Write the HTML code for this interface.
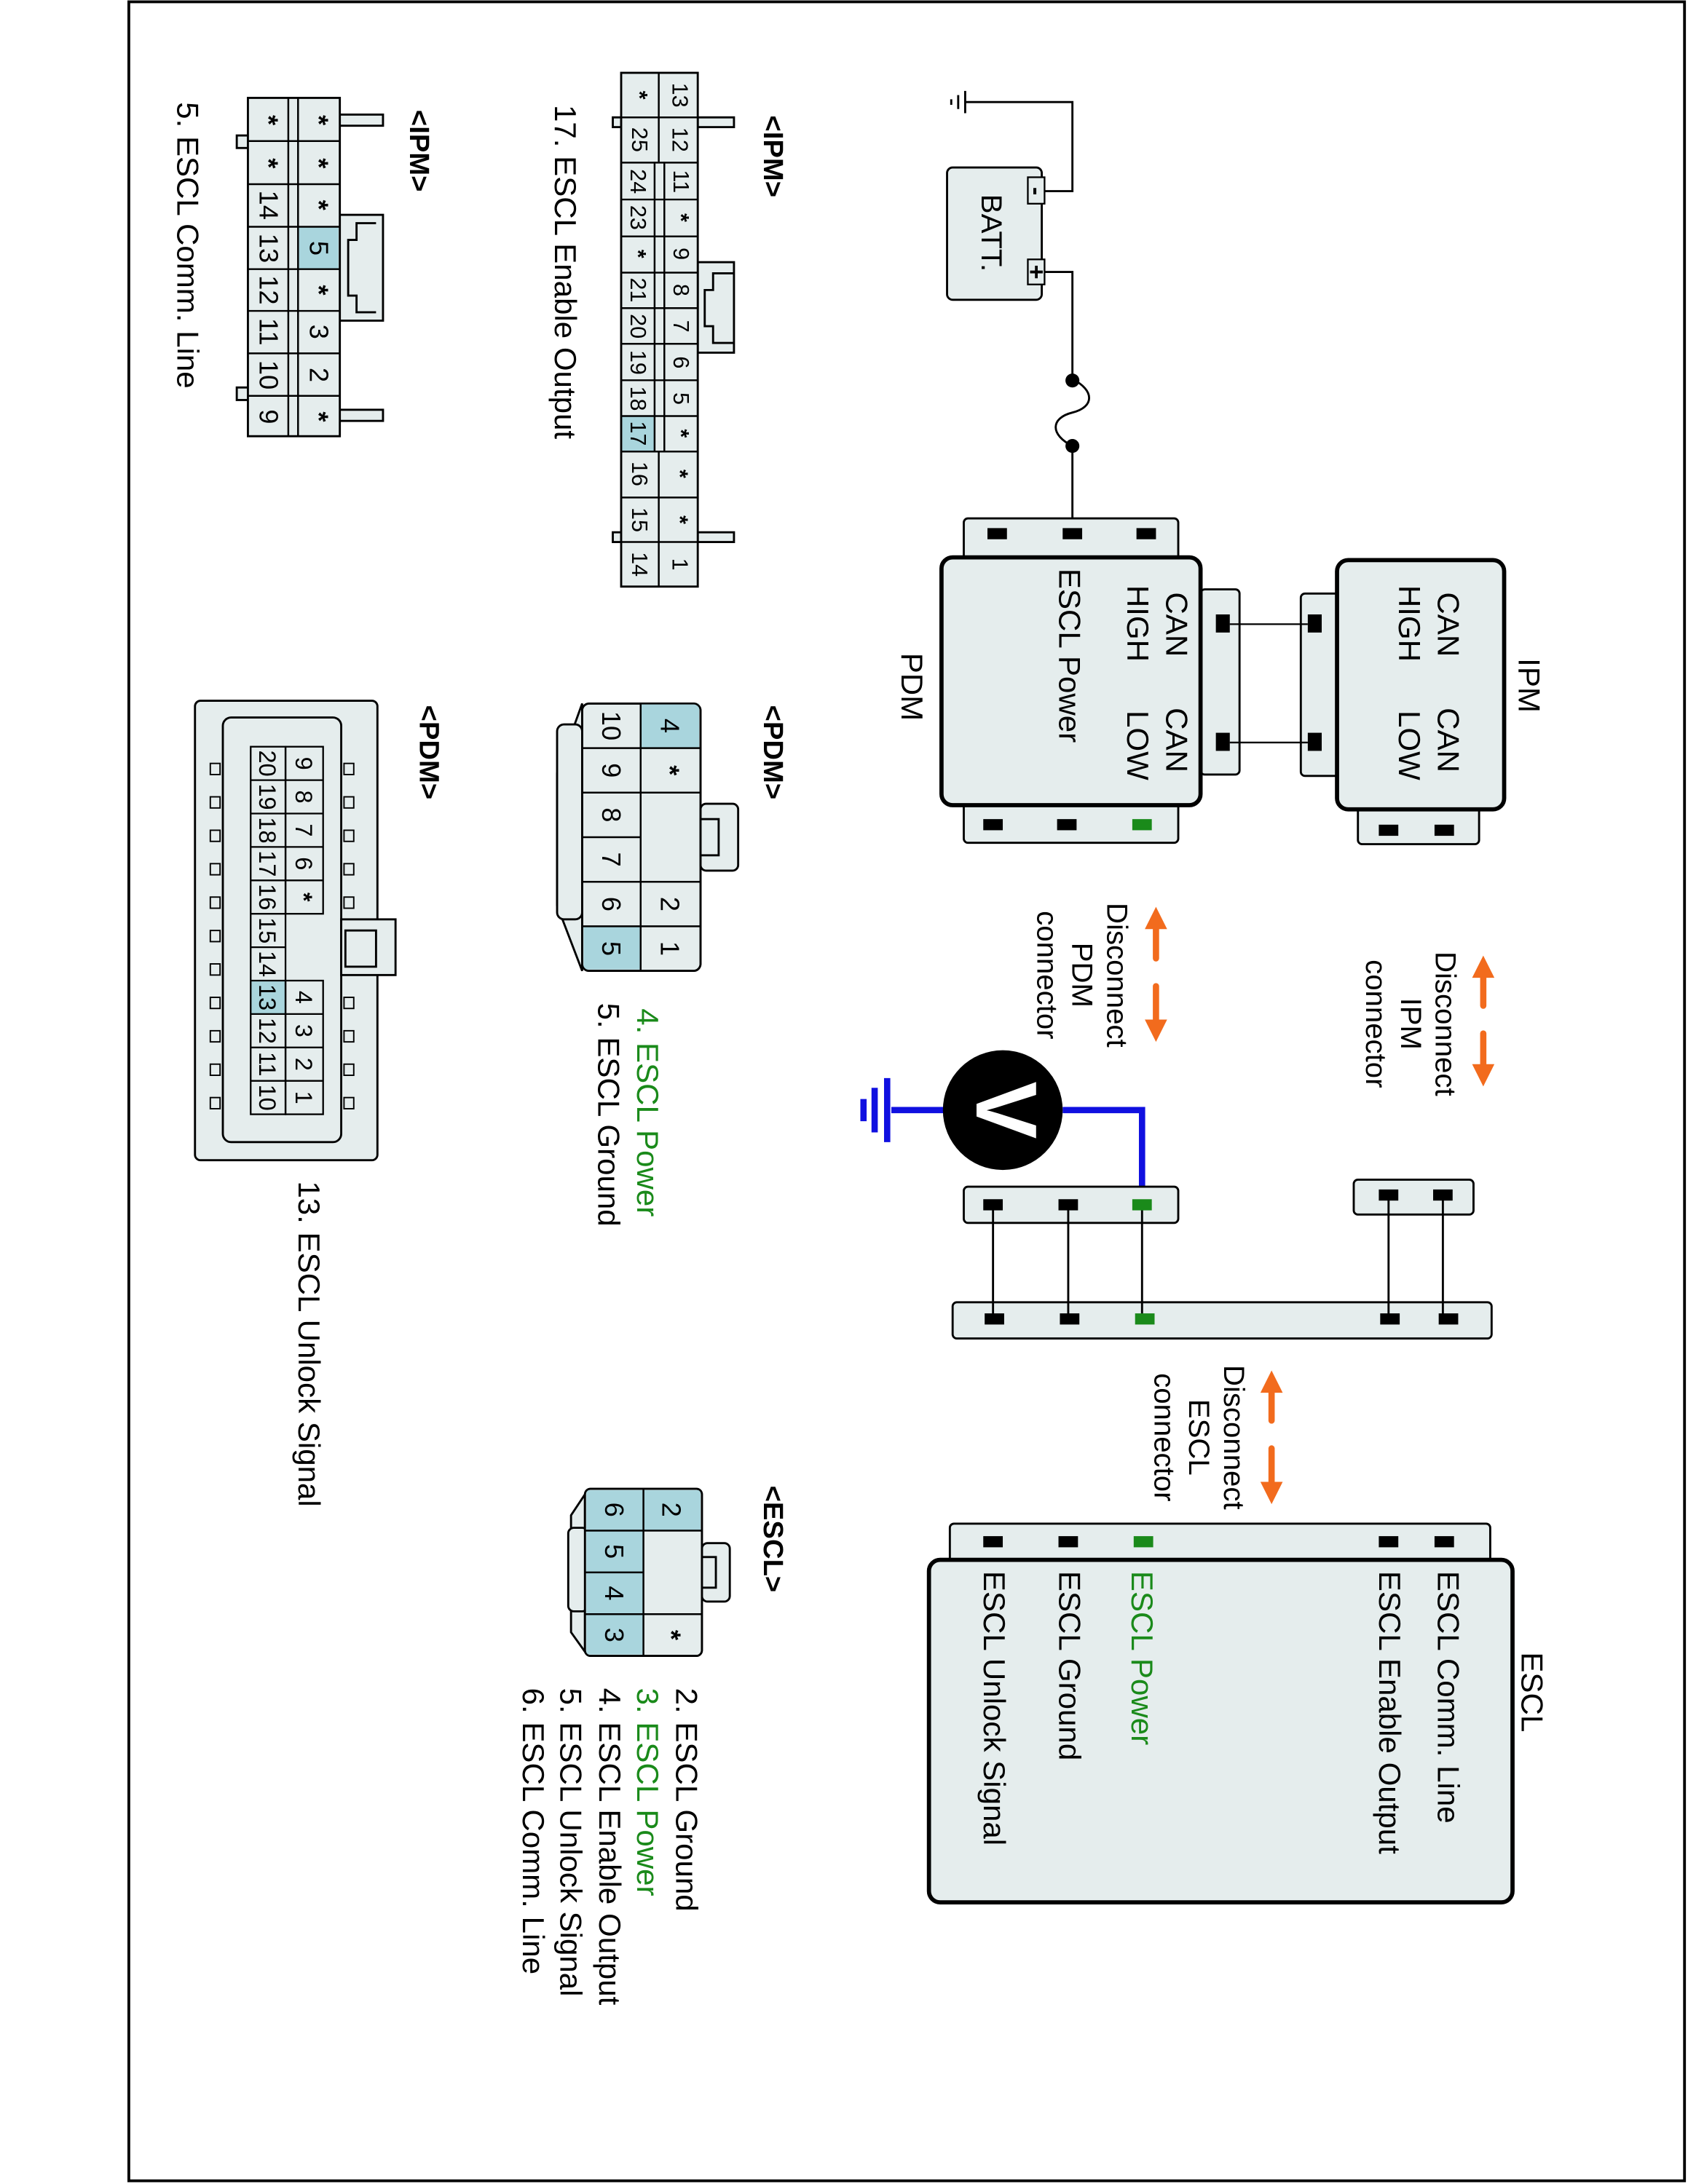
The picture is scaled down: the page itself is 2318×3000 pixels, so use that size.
<!DOCTYPE html>
<html><head><meta charset="utf-8"><style>html,body{margin:0;padding:0;background:#fff}svg{display:block}.a{font-weight:bold}</style></head>
<body>
<svg width="2318" height="3000" viewBox="0 0 1212 1568" xmlns="http://www.w3.org/2000/svg" font-family="Liberation Sans, Arial, sans-serif">
<defs>
<g id="ah"><polygon points="0,-10 -8,6 8,6" fill="#f26b1d"/></g>
</defs>
<rect x="92.5" y="1" width="1117" height="1565" fill="none" stroke="#000" stroke-width="2"/>

<g dominant-baseline="central">
<g stroke="#000" stroke-width="1.5" fill="none">
<polyline points="693,73 770,73 770,137 750,137"/>
<polyline points="750,195 770,195 770,272"/>
<path d="M770 272 C786 280 786 292 770 296 C754 300 754 312 770 320 L770 382"/>
<line x1="693" y1="65" x2="693" y2="81"/>
<line x1="688" y1="68" x2="688" y2="78"/>
<line x1="683" y1="71" x2="683" y2="75"/>
</g>
<circle cx="770" cy="273" r="5"/><circle cx="770" cy="320" r="5"/>
<rect x="680" y="120" width="68" height="95" rx="4" fill="#e5eded" stroke="#000" stroke-width="1.5"/>
<rect x="738" y="127" width="12" height="19" fill="#e5eded" stroke="#000" stroke-width="1.2"/>
<rect x="738" y="186" width="12" height="18" fill="#e5eded" stroke="#000" stroke-width="1.2"/>
<text transform="translate(744 137) rotate(90)" font-size="18" font-weight="bold" text-anchor="middle">-</text>
<text transform="translate(744 195) rotate(90)" font-size="18" font-weight="bold" text-anchor="middle">+</text>
<text transform="translate(712 167) rotate(90)" font-size="21" text-anchor="middle">BATT.</text>

<rect x="692" y="372" width="154" height="32" rx="3" fill="#e5eded" stroke="#000" stroke-width="1.5"/>
<rect x="692" y="574" width="154" height="31" rx="3" fill="#e5eded" stroke="#000" stroke-width="1.5"/>
<rect x="862" y="423" width="28" height="133" rx="3" fill="#e5eded" stroke="#000" stroke-width="1.5"/>
<rect x="676" y="400" width="186" height="178" rx="8" fill="#e5eded" stroke="#000" stroke-width="3"/>
<g fill="#000">
<rect x="709" y="379" width="14" height="8"/><rect x="763" y="379" width="14" height="8"/><rect x="816" y="379" width="14" height="8"/>
<rect x="706" y="588" width="14" height="8"/><rect x="759" y="588" width="14" height="8"/>
<rect x="873" y="441" width="10" height="13"/><rect x="873" y="526" width="10" height="13"/>
</g>
<rect x="813" y="588" width="14" height="8" fill="#1a8a1a"/>
<rect x="934" y="426" width="30" height="131" rx="3" fill="#e5eded" stroke="#000" stroke-width="1.5"/>
<rect x="975" y="577" width="87" height="29" rx="3" fill="#e5eded" stroke="#000" stroke-width="1.5"/>
<rect x="960" y="402" width="120" height="179" rx="8" fill="#e5eded" stroke="#000" stroke-width="3"/>
<g fill="#000">
<rect x="939" y="441" width="10" height="13"/><rect x="939" y="526" width="10" height="13"/>
<rect x="990" y="592" width="14" height="8"/><rect x="1030" y="592" width="14" height="8"/>
</g>
<line x1="883" y1="448" x2="939" y2="448" stroke="#000" stroke-width="1.2"/>
<line x1="883" y1="533" x2="939" y2="533" stroke="#000" stroke-width="1.2"/>
<g font-size="22">
<text transform="translate(1040 425) rotate(90)">CAN</text>
<text transform="translate(1012 420) rotate(90)">HIGH</text>
<text transform="translate(1040 508) rotate(90)">CAN</text>
<text transform="translate(1012 510) rotate(90)">LOW</text>
<text transform="translate(1098 492) rotate(90)" text-anchor="middle">IPM</text>
<text transform="translate(845 425) rotate(90)">CAN</text>
<text transform="translate(817 420) rotate(90)">HIGH</text>
<text transform="translate(845 508) rotate(90)">CAN</text>
<text transform="translate(817 510) rotate(90)">LOW</text>
<text transform="translate(768 408) rotate(90)">ESCL Power</text>
<text transform="translate(655 493) rotate(90)" text-anchor="middle">PDM</text>
</g>

<g stroke="#f26b1d" stroke-width="4.5" stroke-linecap="round">
<line x1="1065" y1="702" x2="1065" y2="722"/><line x1="1065" y1="742" x2="1065" y2="764"/>
<line x1="830" y1="667" x2="830" y2="688"/><line x1="830" y1="708" x2="830" y2="732"/>
<line x1="913" y1="1000" x2="913" y2="1020"/><line x1="913" y1="1040" x2="913" y2="1064"/>
</g>
<use href="#ah" x="1065" y="696"/><use href="#ah" transform="translate(1065 770) rotate(180)"/>
<use href="#ah" x="830" y="661"/><use href="#ah" transform="translate(830 738) rotate(180)"/>
<use href="#ah" x="913" y="994"/><use href="#ah" transform="translate(913 1070) rotate(180)"/>
<g font-size="21" text-anchor="middle">
<text transform="translate(1038 735) rotate(90)">Disconnect</text>
<text transform="translate(1013 735) rotate(90)">IPM</text>
<text transform="translate(988 735) rotate(90)">connector</text>
<text transform="translate(802 700) rotate(90)">Disconnect</text>
<text transform="translate(777 700) rotate(90)">PDM</text>
<text transform="translate(752 700) rotate(90)">connector</text>
<text transform="translate(886 1032) rotate(90)">Disconnect</text>
<text transform="translate(861 1032) rotate(90)">ESCL</text>
<text transform="translate(836 1032) rotate(90)">connector</text>
</g>

<g stroke="#1010e0" stroke-width="4.5" fill="none">
<polyline points="763,797 820,797 820,862"/>
<line x1="640" y1="797" x2="680" y2="797"/>
<line x1="637" y1="774" x2="637" y2="820"/>
<line x1="628" y1="781" x2="628" y2="813"/>
<line x1="620" y1="789" x2="620" y2="805"/>
</g>
<circle cx="720" cy="797" r="43" fill="#000"/>
<text transform="translate(722 797) rotate(90)" font-size="62" font-weight="bold" fill="#fff" text-anchor="middle">V</text>

<rect x="692" y="852" width="154" height="26" rx="3" fill="#e5eded" stroke="#000" stroke-width="1.5"/>
<rect x="972" y="847" width="86" height="25" rx="3" fill="#e5eded" stroke="#000" stroke-width="1.5"/>
<rect x="684" y="935" width="387" height="26" rx="3" fill="#e5eded" stroke="#000" stroke-width="1.5"/>
<g stroke="#000" stroke-width="1.5">
<line x1="713" y1="865" x2="713" y2="947"/><line x1="767" y1="865" x2="767" y2="947"/><line x1="820" y1="865" x2="820" y2="947"/>
<line x1="997" y1="858" x2="997" y2="947"/><line x1="1036" y1="858" x2="1036" y2="947"/>
</g>
<g fill="#000">
<rect x="706" y="861" width="14" height="8"/><rect x="760" y="861" width="14" height="8"/>
<rect x="990" y="854" width="14" height="8"/><rect x="1029" y="854" width="14" height="8"/>
<rect x="707" y="943" width="14" height="8"/><rect x="761" y="943" width="14" height="8"/>
<rect x="991" y="943" width="14" height="8"/><rect x="1033" y="943" width="14" height="8"/>
</g>
<rect x="813" y="861" width="14" height="8" fill="#1a8a1a"/>
<rect x="815" y="943" width="14" height="8" fill="#1a8a1a"/>

<rect x="682" y="1094" width="388" height="30" rx="3" fill="#e5eded" stroke="#000" stroke-width="1.5"/>
<rect x="667" y="1120" width="419" height="246" rx="8" fill="#e5eded" stroke="#000" stroke-width="3"/>
<g fill="#000">
<rect x="706" y="1103" width="14" height="8"/><rect x="760" y="1103" width="14" height="8"/>
<rect x="990" y="1103" width="14" height="8"/><rect x="1030" y="1103" width="14" height="8"/>
</g>
<rect x="814" y="1103" width="14" height="8" fill="#1a8a1a"/>
<g font-size="22">
<text transform="translate(1100 1215) rotate(90)" text-anchor="middle">ESCL</text>
<text transform="translate(1040 1128) rotate(90)">ESCL Comm. Line</text>
<text transform="translate(998 1128) rotate(90)">ESCL Enable Output</text>
<text transform="translate(820 1128) rotate(90)" fill="#1a8a1a">ESCL Power</text>
<text transform="translate(768 1128) rotate(90)">ESCL Ground</text>
<text transform="translate(714 1128) rotate(90)">ESCL Unlock Signal</text>
</g>

<!-- Big IPM connector -->
<g stroke="#000" stroke-width="1.5" fill="#e5eded">
<rect x="501" y="84" width="26" height="7"/><rect x="501" y="382" width="26" height="7"/>
<rect x="440" y="84" width="6" height="7"/><rect x="440" y="382" width="6" height="7"/>
<rect x="501" y="188" width="26" height="65"/>
<polyline points="527,196 512,196 512,208 506,208 506,234 512,234 512,246 527,246" fill="none"/>
<rect x="446" y="52" width="55" height="369"/>
</g>
<rect x="446.8" y="298.5" width="23" height="25.5" fill="#a9d5dd"/>
<g stroke="#000" stroke-width="1.3">
<line x1="473" y1="52" x2="473" y2="116"/><line x1="473" y1="324" x2="473" y2="421"/>
<line x1="470" y1="116" x2="470" y2="324"/><line x1="477" y1="116" x2="477" y2="324"/>
<line x1="446" y1="84" x2="501" y2="84"/><line x1="446" y1="116.5" x2="501" y2="116.5"/>
<line x1="446" y1="143" x2="501" y2="143"/><line x1="446" y1="169.5" x2="501" y2="169.5"/>
<line x1="446" y1="195.5" x2="501" y2="195.5"/><line x1="446" y1="221" x2="501" y2="221"/>
<line x1="446" y1="246.6" x2="501" y2="246.6"/><line x1="446" y1="272.8" x2="501" y2="272.8"/>
<line x1="446" y1="298.5" x2="501" y2="298.5"/><line x1="446" y1="324" x2="501" y2="324"/>
<line x1="446" y1="357" x2="501" y2="357"/><line x1="446" y1="389" x2="501" y2="389"/>
</g>
<g font-size="16" text-anchor="middle">
<text transform="translate(488 68) rotate(90)">13</text><text transform="translate(488 100) rotate(90)">12</text>
<text transform="translate(489 130) rotate(90)">11</text><text class="a" transform="translate(489 156) rotate(90)">*</text>
<text transform="translate(489 182) rotate(90)">9</text><text transform="translate(489 208) rotate(90)">8</text>
<text transform="translate(489 234) rotate(90)">7</text><text transform="translate(489 260) rotate(90)">6</text>
<text transform="translate(489 286) rotate(90)">5</text><text class="a" transform="translate(489 311) rotate(90)">*</text>
<text class="a" transform="translate(488 340) rotate(90)">*</text><text class="a" transform="translate(488 373) rotate(90)">*</text>
<text transform="translate(488 405) rotate(90)">1</text>
<text class="a" transform="translate(459 68) rotate(90)">*</text><text transform="translate(459 100) rotate(90)">25</text>
<text transform="translate(458 130) rotate(90)">24</text><text transform="translate(458 156) rotate(90)">23</text>
<text class="a" transform="translate(458 182) rotate(90)">*</text><text transform="translate(458 208) rotate(90)">21</text>
<text transform="translate(458 234) rotate(90)">20</text><text transform="translate(458 260) rotate(90)">19</text>
<text transform="translate(458 286) rotate(90)">18</text><text transform="translate(458 311) rotate(90)">17</text>
<text transform="translate(459 340) rotate(90)">16</text><text transform="translate(459 373) rotate(90)">15</text>
<text transform="translate(459 405) rotate(90)">14</text>
</g>
<text transform="translate(555 112) rotate(90)" font-size="20" font-weight="bold" text-anchor="middle">&lt;IPM&gt;</text>
<text transform="translate(406 75) rotate(90)" font-size="22">17. ESCL Enable Output</text>

<!-- Small IPM connector -->
<g stroke="#000" stroke-width="1.5" fill="#e5eded">
<rect x="242" y="82" width="33" height="8"/><rect x="242" y="294" width="33" height="8"/>
<rect x="170" y="97" width="8" height="9"/><rect x="170" y="278" width="8" height="9"/>
<rect x="242" y="154" width="33" height="76"/>
<polyline points="270,160 256,160 256,172 250,172 250,212 256,212 256,224 270,224" fill="none"/>
<rect x="178" y="70" width="66" height="243"/>
</g>
<rect x="214" y="163" width="29" height="30" fill="#a9d5dd"/>
<g stroke="#000" stroke-width="1.3">
<line x1="207" y1="70" x2="207" y2="313"/><line x1="214" y1="70" x2="214" y2="313"/>
<line x1="178" y1="101" x2="244" y2="101"/><line x1="178" y1="132" x2="244" y2="132"/>
<line x1="178" y1="162.6" x2="244" y2="162.6"/><line x1="178" y1="193" x2="244" y2="193"/>
<line x1="178" y1="223" x2="244" y2="223"/><line x1="178" y1="253.5" x2="244" y2="253.5"/>
<line x1="178" y1="284" x2="244" y2="284"/>
</g>
<g font-size="19" text-anchor="middle">
<text class="a" transform="translate(229 86) rotate(90)">*</text><text class="a" transform="translate(229 117) rotate(90)">*</text>
<text class="a" transform="translate(229 147) rotate(90)">*</text><text transform="translate(229 178) rotate(90)">5</text>
<text class="a" transform="translate(229 208) rotate(90)">*</text><text transform="translate(229 238) rotate(90)">3</text>
<text transform="translate(229 269) rotate(90)">2</text><text class="a" transform="translate(229 299) rotate(90)">*</text>
<text class="a" transform="translate(193 86) rotate(90)">*</text><text class="a" transform="translate(193 117) rotate(90)">*</text>
<text transform="translate(193 147) rotate(90)">14</text><text transform="translate(193 178) rotate(90)">13</text>
<text transform="translate(193 208) rotate(90)">12</text><text transform="translate(193 238) rotate(90)">11</text>
<text transform="translate(193 269) rotate(90)">10</text><text transform="translate(193 299) rotate(90)">9</text>
</g>
<text transform="translate(301 108) rotate(90)" font-size="20" font-weight="bold" text-anchor="middle">&lt;IPM&gt;</text>
<text transform="translate(135 73) rotate(90)" font-size="22">5. ESCL Comm. Line</text>

<!-- PDM 10-pin -->
<g stroke="#000" stroke-width="1.5" fill="#e5eded">
<path d="M400 555 L400 650 L418 697 L418 505 Z"/>
<rect x="400" y="520" width="18" height="140" rx="5"/>
<rect x="418" y="505" width="85" height="192" rx="5"/>
<rect x="503" y="577" width="27" height="48" rx="4"/>
<rect x="503" y="588" width="13" height="26"/>
</g>
<rect x="460" y="505" width="42" height="32" fill="#a9d5dd"/>
<rect x="419" y="665" width="41" height="31" fill="#a9d5dd"/>
<g stroke="#000" stroke-width="1.3" fill="none">
<line x1="460" y1="505" x2="460" y2="697"/>
<line x1="418" y1="537" x2="503" y2="537"/><line x1="418" y1="569" x2="503" y2="569"/>
<line x1="418" y1="601" x2="460" y2="601"/><line x1="418" y1="633" x2="503" y2="633"/>
<line x1="418" y1="665" x2="503" y2="665"/>
<rect x="418" y="505" width="85" height="192" rx="5"/>
</g>
<rect x="461" y="570" width="41" height="62" fill="#e5eded"/>
<g font-size="19" text-anchor="middle">
<text transform="translate(481 521) rotate(90)">4</text><text class="a" transform="translate(481 553) rotate(90)">*</text>
<text transform="translate(481 649) rotate(90)">2</text><text transform="translate(481 681) rotate(90)">1</text>
<text transform="translate(439 521) rotate(90)">10</text><text transform="translate(439 553) rotate(90)">9</text>
<text transform="translate(439 585) rotate(90)">8</text><text transform="translate(439 617) rotate(90)">7</text>
<text transform="translate(439 649) rotate(90)">6</text><text transform="translate(439 681) rotate(90)">5</text>
</g>
<text transform="translate(555 540) rotate(90)" font-size="20" font-weight="bold" text-anchor="middle">&lt;PDM&gt;</text>
<text transform="translate(465 724) rotate(90)" font-size="22" fill="#1a8a1a">4. ESCL Power</text>
<text transform="translate(437 720) rotate(90)" font-size="22">5. ESCL Ground</text>

<!-- PDM 20-pin -->
<g stroke="#000" stroke-width="1.5" fill="#e5eded">
<rect x="140" y="503" width="131" height="330" rx="4"/>
<rect x="160" y="515" width="85" height="305" rx="6"/>
<rect x="245" y="660" width="39" height="40"/>
<rect x="248" y="668" width="22" height="26"/>
</g>
<g stroke="#000" stroke-width="1" fill="#e5eded">
<rect x="151" y="548" width="7" height="8"/><rect x="151" y="572" width="7" height="8"/><rect x="151" y="596" width="7" height="8"/><rect x="151" y="620" width="7" height="8"/><rect x="151" y="644" width="7" height="8"/><rect x="151" y="668" width="7" height="8"/><rect x="151" y="692" width="7" height="8"/><rect x="151" y="716" width="7" height="8"/><rect x="151" y="740" width="7" height="8"/><rect x="151" y="764" width="7" height="8"/><rect x="151" y="788" width="7" height="8"/>
<rect x="247" y="548" width="7" height="8"/><rect x="247" y="572" width="7" height="8"/><rect x="247" y="596" width="7" height="8"/><rect x="247" y="620" width="7" height="8"/><rect x="247" y="644" width="7" height="8"/><rect x="247" y="716" width="7" height="8"/><rect x="247" y="740" width="7" height="8"/><rect x="247" y="764" width="7" height="8"/><rect x="247" y="788" width="7" height="8"/>
</g>
<rect x="180" y="704" width="25" height="24" fill="#a9d5dd"/>
<g stroke="#000" stroke-width="1.2" fill="none">
<rect x="180" y="536" width="25" height="264"/>
<rect x="205" y="536" width="27" height="120"/>
<rect x="205" y="704" width="27" height="96"/>
<line x1="180" y1="560" x2="232" y2="560"/><line x1="180" y1="584" x2="232" y2="584"/>
<line x1="180" y1="608" x2="232" y2="608"/><line x1="180" y1="632" x2="232" y2="632"/>
<line x1="180" y1="656" x2="205" y2="656"/><line x1="180" y1="680" x2="205" y2="680"/>
<line x1="180" y1="704" x2="205" y2="704"/>
<line x1="180" y1="728" x2="232" y2="728"/><line x1="180" y1="752" x2="232" y2="752"/>
<line x1="180" y1="776" x2="232" y2="776"/>
</g>
<g font-size="17" text-anchor="middle">
<text transform="translate(218 548) rotate(90)">9</text><text transform="translate(218 572) rotate(90)">8</text>
<text transform="translate(218 596) rotate(90)">7</text><text transform="translate(218 620) rotate(90)">6</text>
<text class="a" transform="translate(218 644) rotate(90)">*</text>
<text transform="translate(218 716) rotate(90)">4</text><text transform="translate(218 740) rotate(90)">3</text>
<text transform="translate(218 764) rotate(90)">2</text><text transform="translate(218 788) rotate(90)">1</text>
<text transform="translate(192 548) rotate(90)">20</text><text transform="translate(192 572) rotate(90)">19</text>
<text transform="translate(192 596) rotate(90)">18</text><text transform="translate(192 620) rotate(90)">17</text>
<text transform="translate(192 644) rotate(90)">16</text><text transform="translate(192 668) rotate(90)">15</text>
<text transform="translate(192 692) rotate(90)">14</text><text transform="translate(192 716) rotate(90)">13</text>
<text transform="translate(192 740) rotate(90)">12</text><text transform="translate(192 764) rotate(90)">11</text>
<text transform="translate(192 788) rotate(90)">10</text>
</g>
<text transform="translate(308 540) rotate(90)" font-size="20" font-weight="bold" text-anchor="middle">&lt;PDM&gt;</text>
<text transform="translate(222 848) rotate(90)" font-size="22">13. ESCL Unlock Signal</text>

<!-- ESCL 6-pin -->
<g stroke="#000" stroke-width="1.5" fill="#e5eded">
<path d="M420 1073 L410 1088 L410 1172 L420 1186 Z"/>
<rect x="408" y="1097" width="14" height="60" rx="4"/>
<rect x="420" y="1069" width="84" height="120" rx="4"/>
<rect x="504" y="1108" width="20" height="42" rx="4"/>
<rect x="504" y="1118" width="10" height="22"/>
</g>
<g fill="#a9d5dd">
<rect x="421" y="1070" width="41" height="118"/>
<rect x="462" y="1070" width="41" height="29"/>
</g>
<g stroke="#000" stroke-width="1.3" fill="none">
<rect x="420" y="1069" width="84" height="120" rx="4"/>
<line x1="462" y1="1069" x2="462" y2="1189"/>
<line x1="420" y1="1099" x2="504" y2="1099"/>
<line x1="420" y1="1129" x2="462" y2="1129"/>
<line x1="420" y1="1159" x2="504" y2="1159"/>
</g>
<rect x="463" y="1100" width="40" height="58" fill="#e5eded"/>
<g font-size="19" text-anchor="middle">
<text transform="translate(482 1084) rotate(90)">2</text><text class="a" transform="translate(482 1174) rotate(90)">*</text>
<text transform="translate(441 1084) rotate(90)">6</text><text transform="translate(441 1114) rotate(90)">5</text>
<text transform="translate(441 1144) rotate(90)">4</text><text transform="translate(441 1174) rotate(90)">3</text>
</g>
<text transform="translate(555 1105) rotate(90)" font-size="20" font-weight="bold" text-anchor="middle">&lt;ESCL&gt;</text>
<g font-size="22">
<text transform="translate(493 1212) rotate(90)">2. ESCL Ground</text>
<text transform="translate(465 1212) rotate(90)" fill="#1a8a1a">3. ESCL Power</text>
<text transform="translate(438 1212) rotate(90)">4. ESCL Enable Output</text>
<text transform="translate(410 1212) rotate(90)">5. ESCL Unlock Signal</text>
<text transform="translate(383 1212) rotate(90)">6. ESCL Comm. Line</text>
</g>
</g>
</svg>
</body></html>
